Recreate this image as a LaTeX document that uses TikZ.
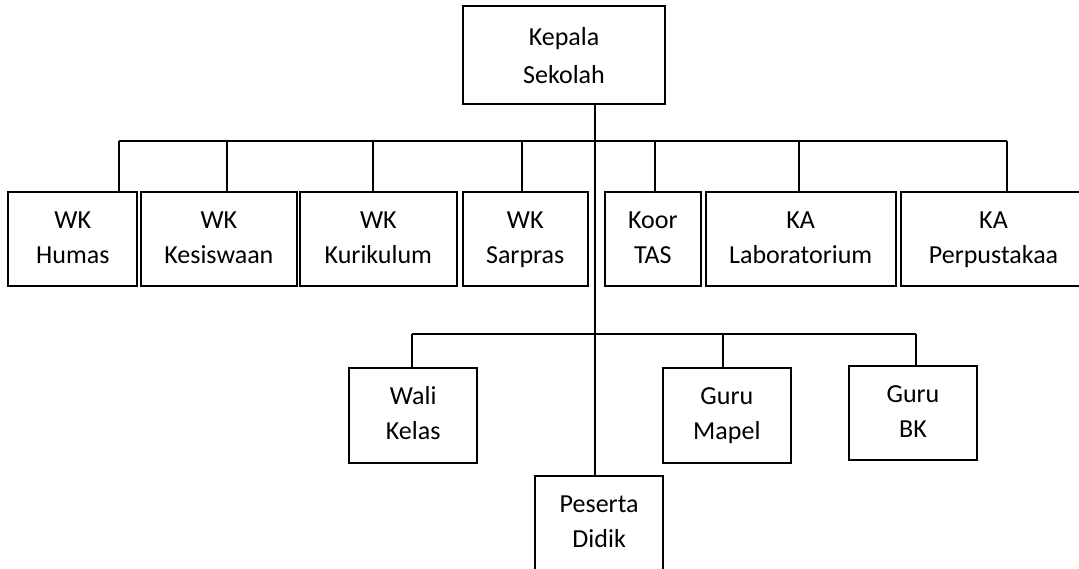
\documentclass[tikz,border=0pt]{standalone}
\usepackage{fontspec}
\setmainfont{Carlito}
\begin{document}
\begin{tikzpicture}[x=1pt,y=-1pt,
  orgbox/.style={draw=black, line width=2pt, inner sep=0pt, align=center,
    font=\fontsize{26}{35}\selectfont, fill=white,
    text height=58.5pt, text depth=10pt},
  link/.style={draw=black, line width=2pt}]
\useasboundingbox (0,0) rectangle (1079,568);
\clip (0,0) rectangle (1079,568);
% top
\node[orgbox, minimum width=202.6pt, minimum height=98.3pt, font=\fontsize{26}{38}\selectfont, text height=66.3pt] (kepala) at (564,54.85) {Kepala\\Sekolah};
% row 1
\node[orgbox, minimum width=129pt, minimum height=94pt] (humas) at (72.8,239) {WK\\Humas};
\node[orgbox, minimum width=155.7pt, minimum height=94pt] (kesis) at (218.85,239) {WK\\Kesiswaan};
\node[orgbox, minimum width=156.7pt, minimum height=94pt] (kurik) at (378.35,239) {WK\\Kurikulum};
\node[orgbox, minimum width=125pt, minimum height=94pt] (sarpras) at (525.2,239) {WK\\Sarpras};
\node[orgbox, minimum width=95.7pt, minimum height=94pt] (koor) at (652.85,239) {Koor\\TAS};
\node[orgbox, minimum width=190pt, minimum height=94pt] (lab) at (800.7,239) {KA\\Laboratorium};
\node[orgbox, minimum width=185pt, minimum height=94pt] (perpus) at (993.5,239) {KA\\Perpustakaa};
% row 2
\node[orgbox, minimum width=128.3pt, minimum height=94.4pt] (wali) at (413.15,415.5) {Wali\\Kelas};
\node[orgbox, minimum width=128.3pt, minimum height=94.4pt] (mapel) at (726.85,415.5) {Guru\\Mapel};
\node[orgbox, minimum width=128.6pt, minimum height=94.3pt] (bk) at (913,412.85) {Guru\\BK};
% bottom
\node[orgbox, minimum width=128.3pt, minimum height=95.3pt] (peserta) at (599.15,523.35) {Peserta\\Didik};
% bus coordinates
\coordinate (tbus) at (595,141);
\coordinate (bbus) at (595,334.3);
\coordinate (jhumas) at (119,141);
\coordinate (jkesis) at (227.3,141);
\coordinate (jkurik) at (373.3,141);
\coordinate (jsarpras) at (521.7,141);
\coordinate (jkoor) at (655,141);
\coordinate (jlab) at (799,141);
\coordinate (jperpus) at (1007.3,141);
\coordinate (jwali) at (412.3,334.3);
\coordinate (jmapel) at (723.3,334.3);
\coordinate (jbk) at (915.7,334.3);
% main trunk
\draw[link] (kepala.south -| tbus) -- (peserta.north -| tbus);
% top bus
\draw[link] (jhumas) -- (jperpus);
\foreach \j/\b in {jhumas/humas, jkesis/kesis, jkurik/kurik, jsarpras/sarpras, jkoor/koor, jlab/lab, jperpus/perpus}
  \draw[link] (\j) -- (\j |- \b.north);
% bottom bus
\draw[link] (jwali) -- (jbk);
\foreach \j/\b in {jwali/wali, jmapel/mapel, jbk/bk}
  \draw[link] (\j) -- (\j |- \b.north);
\end{tikzpicture}
\end{document}
